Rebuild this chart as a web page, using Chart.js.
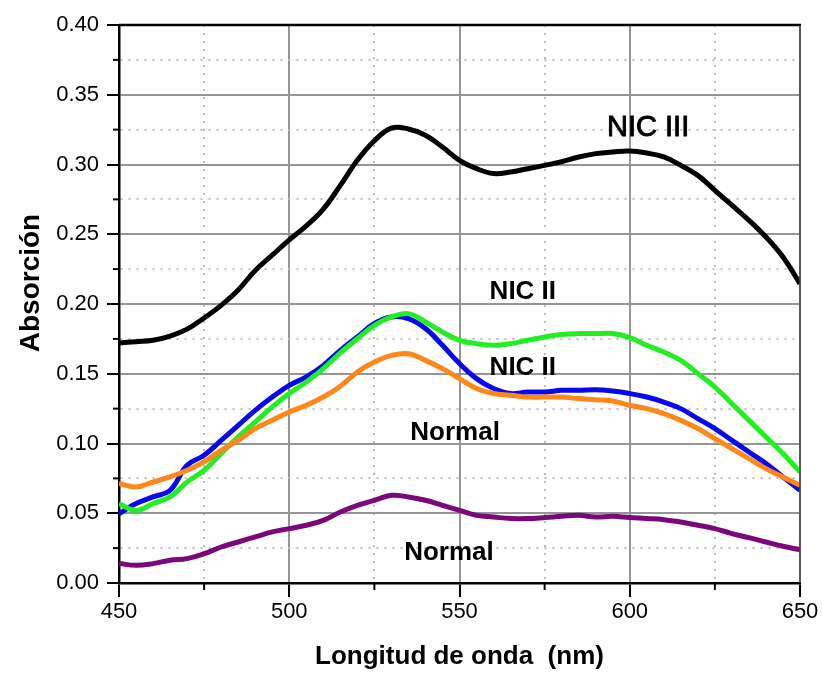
<!DOCTYPE html>
<html>
<head>
<meta charset="utf-8">
<script src="https://cdn.jsdelivr.net/npm/chart.js@4.4.1/dist/chart.umd.min.js"></script>
<style>
  body { margin: 0; background: #fff; }
</style>
</head>
<body>
<canvas id="spectra" width="822" height="675"></canvas>
<script>
// wavelengths (nm), one reading every 5 nm
var wavelength = [450,455,460,465,470,475,480,485,490,495,
                  500,505,510,515,520,525,530,535,540,545,
                  550,555,560,565,570,575,580,585,590,595,
                  600,605,610,615,620,625,630,635,640,645,650];

// absorbance of each sample
var nicIII = [0.172,0.173,0.174,0.177,0.182,0.190,0.199,0.210,0.224,0.235,
              0.246,0.256,0.268,0.285,0.303,0.317,0.326,0.3255,0.321,0.3125,
              0.303,0.297,0.2935,0.2946,0.297,0.2994,0.302,0.3054,0.3078,0.309,
              0.3097,0.3082,0.3054,0.2994,0.2922,0.2815,0.2708,0.260,0.248,0.2337,0.2146];
var nicIIgreen = [0.057,0.052,0.057,0.0617,0.0724,0.0808,0.0928,0.1047,0.1154,0.1262,
                  0.1358,0.1441,0.1537,0.165,0.1752,0.1847,0.1907,0.1931,0.1871,0.1799,
                  0.174,0.1716,0.1704,0.1716,0.174,0.1764,0.1782,0.1788,0.1788,0.1788,
                  0.1759,0.1704,0.1656,0.1596,0.1501,0.1405,0.1286,0.1166,0.1047,0.0928,0.0796];
var nicIIblue = [0.0497,0.057,0.0617,0.0665,0.0844,0.0915,0.1023,0.113,0.1238,0.1333,
                 0.1417,0.1477,0.156,0.1668,0.1764,0.186,0.1907,0.1895,0.1824,0.1704,
                 0.1573,0.1465,0.1394,0.1358,0.1369,0.1369,0.1381,0.1381,0.1386,0.1376,
                 0.1358,0.1333,0.1297,0.125,0.1178,0.1107,0.1023,0.0939,0.0856,0.076,0.0665];
var normalOrange = [0.0713,0.0688,0.0724,0.076,0.0808,0.0868,0.0951,0.1023,0.1107,0.1166,
                    0.1226,0.1274,0.1333,0.1411,0.1513,0.1584,0.1632,0.1644,0.1596,0.1537,
                    0.1465,0.1394,0.1358,0.1346,0.1333,0.1333,0.1333,0.1322,0.1314,0.1305,
                    0.1274,0.125,0.1214,0.1166,0.1107,0.1035,0.0963,0.0892,0.082,0.076,0.07];
var normalPurple = [0.0139,0.0127,0.0139,0.0163,0.0175,0.021,0.0258,0.0294,0.033,0.0366,
                    0.039,0.0414,0.0449,0.0509,0.0557,0.0593,0.0629,0.0617,0.0593,0.0557,
                    0.0521,0.0485,0.0473,0.0462,0.0462,0.0469,0.0478,0.0485,0.0473,0.0478,
                    0.0469,0.0462,0.0454,0.0437,0.0414,0.039,0.0354,0.0325,0.0294,0.0263,0.0239];

// text labels on the plot, in data units
var labelTexts = ['NIC III', 'NIC II', 'NIC II', 'Normal', 'Normal'];
var labelNm    = [605.4, 568.6, 568.6, 548.7, 546.9];
var labelAbs   = [0.326, 0.2084, 0.1546, 0.108, 0.0213];

var FONT = '"Liberation Sans", Arial, sans-serif';

function toPoints(ys) {
  var pts = [];
  for (var i = 0; i < wavelength.length; i++) {
    pts.push({x: wavelength[i], y: ys[i]});
  }
  return pts;
}

function isMajorX(v) { return Math.round(v) % 50 === 0; }
function isMajorY(v) { return Math.round(v * 1000) % 50 === 0; }

function line(data, color) {
  return {
    data: toPoints(data),
    borderColor: color,
    borderWidth: 5,
    pointRadius: 0,
    tension: 0.4,
    fill: false
  };
}

// frame, short minor ticks, labels and axis titles
var extras = {
  id: 'extras',
  afterDraw: function(chart) {
    var ctx = chart.ctx, xs = chart.scales.x, ys = chart.scales.y, a = chart.chartArea;
    ctx.save();

    ctx.strokeStyle = '#000';
    ctx.lineWidth = 2.5;
    ctx.beginPath(); ctx.moveTo(a.left, a.top); ctx.lineTo(a.right + 1, a.top); ctx.stroke();
    ctx.strokeStyle = '#444';
    ctx.lineWidth = 1.5;
    ctx.beginPath(); ctx.moveTo(a.right, a.top); ctx.lineTo(a.right, a.bottom); ctx.stroke();

    // minor ticks
    ctx.strokeStyle = '#000';
    ctx.lineWidth = 2;
    xs.ticks.forEach(function(t) {
      if (!isMajorX(t.value)) {
        var px = xs.getPixelForValue(t.value);
        ctx.beginPath(); ctx.moveTo(px, a.bottom); ctx.lineTo(px, a.bottom + 7); ctx.stroke();
      }
    });
    ys.ticks.forEach(function(t) {
      if (!isMajorY(t.value)) {
        var py = ys.getPixelForValue(t.value);
        ctx.beginPath(); ctx.moveTo(a.left, py); ctx.lineTo(a.left - 6, py); ctx.stroke();
      }
    });

    ctx.fillStyle = '#000';
    ctx.strokeStyle = '#000';
    ctx.textAlign = 'center';
    ctx.textBaseline = 'middle';
    for (var i = 0; i < labelTexts.length; i++) {
      var lx = xs.getPixelForValue(labelNm[i]), ly = ys.getPixelForValue(labelAbs[i]);
      if (i === 0) {
        ctx.font = '29px ' + FONT;
        ctx.lineWidth = 0.9;
        ctx.strokeText(labelTexts[i], lx, ly);
      } else {
        ctx.font = 'bold 26px ' + FONT;
      }
      ctx.fillText(labelTexts[i], lx, ly);
    }

    ctx.font = 'bold 26px ' + FONT;
    ctx.fillText('Longitud de onda  (nm)', (a.left + a.right) / 2, 657);

    ctx.translate(31, 283);
    ctx.rotate(-Math.PI / 2);
    ctx.font = 'bold 28px ' + FONT;
    ctx.fillText('Absorción', 0, 0);
    ctx.restore();
  }
};

new Chart(document.getElementById('spectra'), {
  type: 'line',
  data: {
    datasets: [
      line(nicIII, '#000000'),
      line(normalPurple, '#7b087b'),
      line(normalOrange, '#ff8618'),
      line(nicIIgreen, '#22ee22'),
      line(nicIIblue, '#0808ee')
    ]
  },
  options: {
    responsive: false,
    animation: false,
    layout: { padding: { left: 0, top: 25, right: 22, bottom: 0 } },
    plugins: { legend: { display: false }, tooltip: { enabled: false } },
    scales: {
      x: {
        type: 'linear',
        min: 450,
        max: 650,
        afterFit: function(s) { s.height = 92; },
        ticks: {
          stepSize: 25,
          autoSkip: false,
          maxRotation: 0,
          padding: 2,
          color: '#000',
          font: { family: FONT, size: 22 },
          callback: function(v) { return isMajorX(v) ? String(v) : ''; }
        },
        grid: {
          color: function(c) { return c.tick && isMajorX(c.tick.value) ? '#959595' : '#bdbdbd'; },
          lineWidth: 2,
          tickLength: 14,
          tickWidth: 2,
          tickColor: function(c) { return c.tick && isMajorX(c.tick.value) ? '#000' : 'rgba(0,0,0,0)'; }
        },
        border: {
          color: '#000',
          width: 2.5,
          dash: function(c) { return c.tick && !isMajorX(c.tick.value) ? [2, 6] : []; }
        }
      },
      y: {
        min: 0,
        max: 0.4,
        afterFit: function(s) { s.width = 119; },
        ticks: {
          stepSize: 0.025,
          autoSkip: false,
          padding: 8,
          color: '#000',
          font: { family: FONT, size: 22 },
          callback: function(v) { return isMajorY(v) ? v.toFixed(2) : ''; }
        },
        grid: {
          color: function(c) { return c.tick && isMajorY(c.tick.value) ? '#959595' : '#bdbdbd'; },
          lineWidth: 2,
          tickLength: 12,
          tickWidth: 2,
          tickColor: function(c) { return c.tick && isMajorY(c.tick.value) ? '#000' : 'rgba(0,0,0,0)'; }
        },
        border: {
          color: '#000',
          width: 2.5,
          dash: function(c) { return c.tick && !isMajorY(c.tick.value) ? [2, 6] : []; }
        }
      }
    }
  },
  plugins: [extras]
});
</script>
</body>
</html>
